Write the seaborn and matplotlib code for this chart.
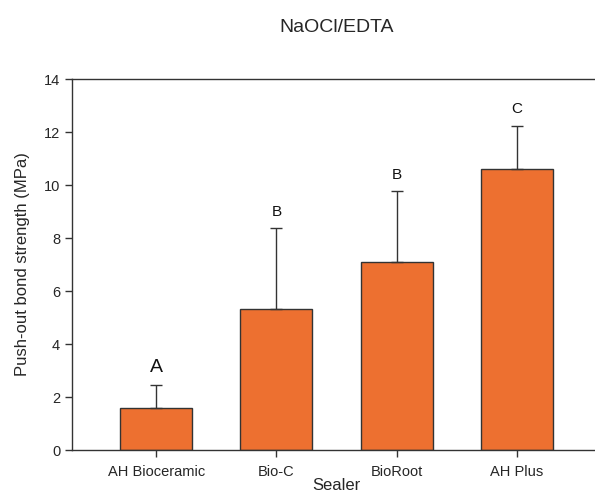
import numpy as np
import pandas as pd
import matplotlib
matplotlib.use('Agg')
import matplotlib.pyplot as plt
import seaborn as sns

sealers = ['AH Bioceramic', 'Bio-C', 'BioRoot', 'AH Plus']
means = [1.60, 5.32, 7.09, 10.61]
sds = [0.86, 3.05, 2.68, 1.63]
letters = ['A', 'B', 'B', 'C']

df = pd.DataFrame({'Sealer': sealers, 'Strength': means})

sns.set_style('white')
plt.rcParams['font.family'] = ['Liberation Sans', 'DejaVu Sans']

fig = plt.figure(figsize=(5.95, 4.94), dpi=100)
ax = fig.add_axes([0.121, 0.089, 0.889, 0.751])

sns.barplot(data=df, x='Sealer', y='Strength', color='#ED7030', saturation=1,
            width=0.6, edgecolor='#333333', linewidth=1, errorbar=None, ax=ax)
ax.errorbar(np.arange(len(sealers)), means, yerr=[np.zeros(len(sds)), sds],
            fmt='none', ecolor='#333333', elinewidth=1, capsize=4, capthick=1)

# significance letters
for i, (m, s, l) in enumerate(zip(means, sds, letters)):
    fs = 14 if l == 'A' else 11
    ax.text(i, m + s + 0.35, l, ha='center', va='bottom', fontsize=fs, color='#111111')

ax.set_xlim(-0.7, 3.7)
ax.set_ylim(0, 14)
ax.set_yticks(range(0, 15, 2))
ax.set_title('NaOCl/EDTA', fontsize=14, pad=34)
ax.set_xlabel('Sealer', fontsize=12, labelpad=-1)
ax.set_ylabel('Push-out bond strength (MPa)', fontsize=12, labelpad=10)
ax.tick_params(axis='both', labelsize=10.5, direction='out', length=5, width=1,
               color='#333333', left=True, bottom=True)
ax.tick_params(axis='x', pad=6)
for side in ['left', 'bottom', 'top']:
    ax.spines[side].set_color('#333333')
    ax.spines[side].set_linewidth(1)
ax.spines['right'].set_visible(False)

plt.savefig('out.png', dpi=100)
